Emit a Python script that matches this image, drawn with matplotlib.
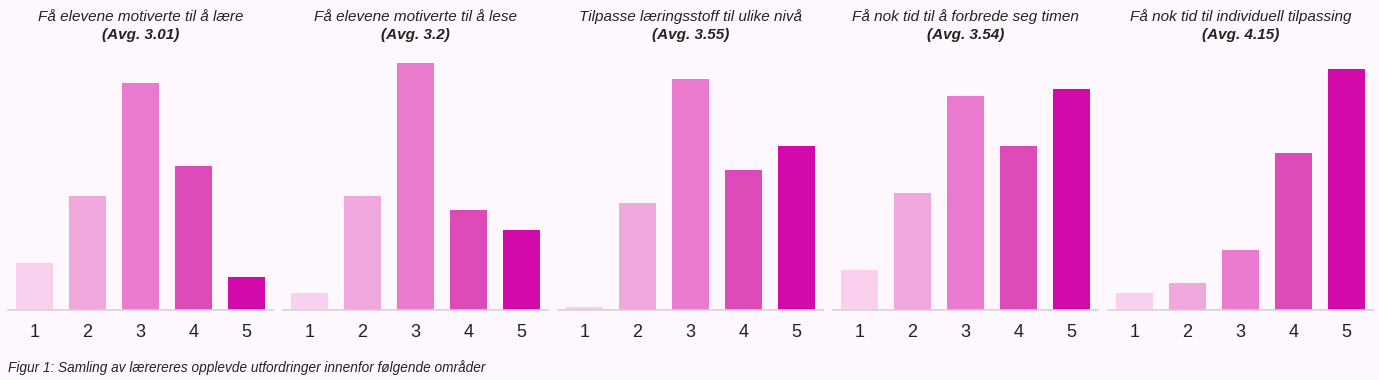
import numpy as np
import matplotlib
matplotlib.use("Agg")
import matplotlib.pyplot as plt

plt.rcParams['font.family'] = ['Liberation Sans', 'DejaVu Sans']

# answer categories (1-5) and counts per question
categories = [1, 2, 3, 4, 5]
titles = [
    "Få elevene motiverte til å lære",
    "Få elevene motiverte til å lese",
    "Tilpasse læringsstoff til ulike nivå",
    "Få nok tid til å forbrede seg timen",
    "Få nok tid til individuell tilpassing",
]
averages = ["3.01", "3.2", "3.55", "3.54", "4.15"]
motivere_laere = [14, 34, 68, 43, 10]
motivere_lese = [5, 34, 74, 30, 24]
tilpasse_niva = [1, 32, 69, 42, 49]
tid_forberede = [12, 35, 64, 49, 66]
tid_tilpassing = [5, 8, 18, 47, 72]
series = [motivere_laere, motivere_lese, tilpasse_niva, tid_forberede, tid_tilpassing]

colors = ['#F9D1EE', '#F0A7DD', '#EA7ACD', '#DD4BB9', '#D10AA9']
bg = '#FEF7FD'

W, H = 1379, 380
fig = plt.figure(figsize=(W / 100, H / 100), dpi=100, facecolor=bg)

for i, vals in enumerate(series):
    left = (8 + 275 * i) / W
    ax = fig.add_axes([left, 70 / H, 265 / W, 255 / H])
    ax.set_facecolor(bg)
    ax.bar(categories, vals, width=0.68, color=colors)
    ax.set_xlim(0.5, 5.5)
    ax.set_ylim(0, 76.3)
    for s in ['top', 'right', 'left']:
        ax.spines[s].set_visible(False)
    ax.spines['bottom'].set_color('#d6d3d6')
    ax.spines['bottom'].set_linewidth(1.2)
    ax.set_yticks([])
    ax.set_xticks(categories)
    ax.tick_params(axis='x', length=0, pad=10, labelsize=13, labelcolor='#222222')
    cx = left + 132.5 / W
    fig.text(cx, 1 - 17 / H, titles[i], ha='center', va='center',
             fontsize=11, style='italic', color='#222222')
    fig.text(cx, 1 - 35 / H, "(Avg. %s)" % averages[i], ha='center', va='center',
             fontsize=11, style='italic', weight='bold', color='#222222')

fig.text(8 / W, 1 - 368 / H, "Figur 1: Samling av lærereres opplevde utfordringer innenfor følgende områder",
         ha='left', va='center', fontsize=9.8, style='italic', color='#222222')

fig.savefig("out.png", dpi=100, facecolor=bg)
